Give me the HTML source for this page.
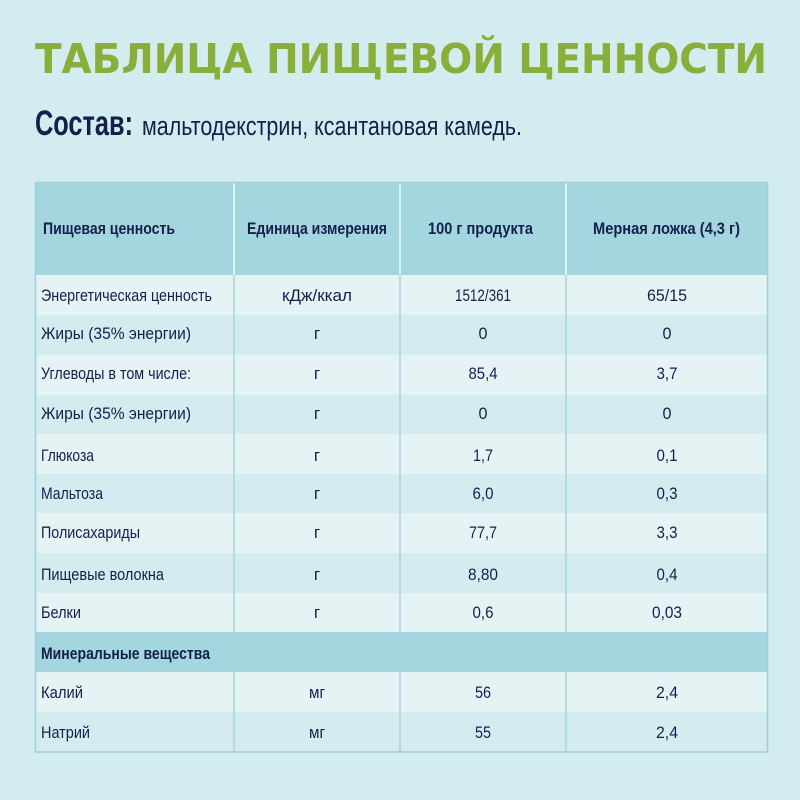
<!DOCTYPE html>
<html><head><meta charset="utf-8"><style>
html,body{margin:0;padding:0;background:#d3ecf0;}
svg{display:block;}
text{font-family:"Liberation Sans","DejaVu Sans",sans-serif;fill:#15204a;}
.b{font-weight:bold;}
</style></head><body>
<svg width="800" height="800" viewBox="0 0 800 800" xmlns="http://www.w3.org/2000/svg">
<rect width="800" height="800" fill="#d3ecf0"/>
<text x="35" y="73" font-size="41" class="b" style="fill:#8aae3a;font-family:'DejaVu Sans',sans-serif" textLength="732" lengthAdjust="spacingAndGlyphs">ТАБЛИЦА ПИЩЕВОЙ ЦЕННОСТИ</text>
<text x="35" y="135" font-size="35" class="b" textLength="98" lengthAdjust="spacingAndGlyphs">Состав:</text>
<text x="142" y="135" font-size="27" textLength="380" lengthAdjust="spacingAndGlyphs">мальтодекстрин, ксантановая камедь.</text>

<rect x="35" y="182" width="733" height="93" fill="#a4d6df"/>
<rect x="35" y="275" width="733" height="40" fill="#e5f3f5"/>
<rect x="35" y="315" width="733" height="40" fill="#d4ecf0"/>
<rect x="35" y="355" width="733" height="40" fill="#e5f3f5"/>
<rect x="35" y="395" width="733" height="39" fill="#d4ecf0"/>
<rect x="35" y="434" width="733" height="40" fill="#e5f3f5"/>
<rect x="35" y="474" width="733" height="39" fill="#d4ecf0"/>
<rect x="35" y="513" width="733" height="40" fill="#e5f3f5"/>
<rect x="35" y="553" width="733" height="40" fill="#d4ecf0"/>
<rect x="35" y="593" width="733" height="39" fill="#e5f3f5"/>
<rect x="35" y="632" width="733" height="40" fill="#a4d6df"/>
<rect x="35" y="672" width="733" height="40" fill="#e5f3f5"/>
<rect x="35" y="712" width="733" height="40" fill="#d4ecf0"/>
<g stroke="#f2fafb" stroke-width="1.5">
<line x1="234" y1="182" x2="234" y2="275"/><line x1="400" y1="182" x2="400" y2="275"/><line x1="566" y1="182" x2="566" y2="275"/>
</g>
<g stroke="#a6d5dd" stroke-width="1.5">
<line x1="234" y1="275" x2="234" y2="632"/><line x1="400" y1="275" x2="400" y2="632"/><line x1="566" y1="275" x2="566" y2="632"/>
<line x1="234" y1="672" x2="234" y2="752"/><line x1="400" y1="672" x2="400" y2="752"/><line x1="566" y1="672" x2="566" y2="752"/>
</g>
<rect x="35.5" y="182.5" width="732" height="569.5" fill="none" stroke="#9fd0d9" stroke-width="1.5"/>

<g font-size="17">
<text x="43" y="234" class="b" textLength="132" lengthAdjust="spacingAndGlyphs">Пищевая ценность</text>
<text x="247" y="234" class="b" textLength="140" lengthAdjust="spacingAndGlyphs">Единица измерения</text>
<text x="428" y="234" class="b" textLength="105" lengthAdjust="spacingAndGlyphs">100 г продукта</text>
<text x="593" y="234" class="b" textLength="147" lengthAdjust="spacingAndGlyphs">Мерная ложка (4,3 г)</text>
<text x="41" y="659" class="b" textLength="169" lengthAdjust="spacingAndGlyphs">Минеральные вещества</text>
</g>

<g font-size="17">
<text x="41" y="301" textLength="171" lengthAdjust="spacingAndGlyphs">Энергетическая ценность</text>
<text x="41" y="339" textLength="150" lengthAdjust="spacingAndGlyphs">Жиры (35% энергии)</text>
<text x="41" y="379" textLength="150" lengthAdjust="spacingAndGlyphs">Углеводы в том числе:</text>
<text x="41" y="419" textLength="150" lengthAdjust="spacingAndGlyphs">Жиры (35% энергии)</text>
<text x="41" y="461" textLength="53" lengthAdjust="spacingAndGlyphs">Глюкоза</text>
<text x="41" y="499" textLength="62" lengthAdjust="spacingAndGlyphs">Мальтоза</text>
<text x="41" y="538" textLength="99" lengthAdjust="spacingAndGlyphs">Полисахариды</text>
<text x="41" y="580" textLength="123" lengthAdjust="spacingAndGlyphs">Пищевые волокна</text>
<text x="41" y="618" textLength="40" lengthAdjust="spacingAndGlyphs">Белки</text>
<text x="41" y="698" textLength="42" lengthAdjust="spacingAndGlyphs">Калий</text>
<text x="41" y="738" textLength="49" lengthAdjust="spacingAndGlyphs">Натрий</text>
</g>
<g font-size="17" text-anchor="middle">
<text x="317" y="301" textLength="70" lengthAdjust="spacingAndGlyphs">кДж/ккал</text>
<text x="317" y="339">г</text><text x="317" y="379">г</text><text x="317" y="419">г</text>
<text x="317" y="461">г</text><text x="317" y="499">г</text><text x="317" y="538">г</text>
<text x="317" y="580">г</text><text x="317" y="618">г</text>
<text x="317" y="698" textLength="16" lengthAdjust="spacingAndGlyphs">мг</text>
<text x="317" y="738" textLength="16" lengthAdjust="spacingAndGlyphs">мг</text>

<text x="483" y="301" textLength="56" lengthAdjust="spacingAndGlyphs">1512/361</text>
<text x="483" y="339" textLength="9" lengthAdjust="spacingAndGlyphs">0</text>
<text x="483" y="379" textLength="29" lengthAdjust="spacingAndGlyphs">85,4</text>
<text x="483" y="419" textLength="9" lengthAdjust="spacingAndGlyphs">0</text>
<text x="483" y="461" textLength="20" lengthAdjust="spacingAndGlyphs">1,7</text>
<text x="483" y="499" textLength="21" lengthAdjust="spacingAndGlyphs">6,0</text>
<text x="483" y="538" textLength="28" lengthAdjust="spacingAndGlyphs">77,7</text>
<text x="483" y="580" textLength="30" lengthAdjust="spacingAndGlyphs">8,80</text>
<text x="483" y="618" textLength="21" lengthAdjust="spacingAndGlyphs">0,6</text>
<text x="483" y="698" textLength="16" lengthAdjust="spacingAndGlyphs">56</text>
<text x="483" y="738" textLength="16" lengthAdjust="spacingAndGlyphs">55</text>

<text x="667" y="301" textLength="40" lengthAdjust="spacingAndGlyphs">65/15</text>
<text x="667" y="339" textLength="9" lengthAdjust="spacingAndGlyphs">0</text>
<text x="667" y="379" textLength="21" lengthAdjust="spacingAndGlyphs">3,7</text>
<text x="667" y="419" textLength="9" lengthAdjust="spacingAndGlyphs">0</text>
<text x="667" y="461" textLength="21" lengthAdjust="spacingAndGlyphs">0,1</text>
<text x="667" y="499" textLength="21" lengthAdjust="spacingAndGlyphs">0,3</text>
<text x="667" y="538" textLength="21" lengthAdjust="spacingAndGlyphs">3,3</text>
<text x="667" y="580" textLength="21" lengthAdjust="spacingAndGlyphs">0,4</text>
<text x="667" y="618" textLength="30" lengthAdjust="spacingAndGlyphs">0,03</text>
<text x="667" y="698" textLength="22" lengthAdjust="spacingAndGlyphs">2,4</text>
<text x="667" y="738" textLength="22" lengthAdjust="spacingAndGlyphs">2,4</text>
</g>
</svg>
</body></html>
